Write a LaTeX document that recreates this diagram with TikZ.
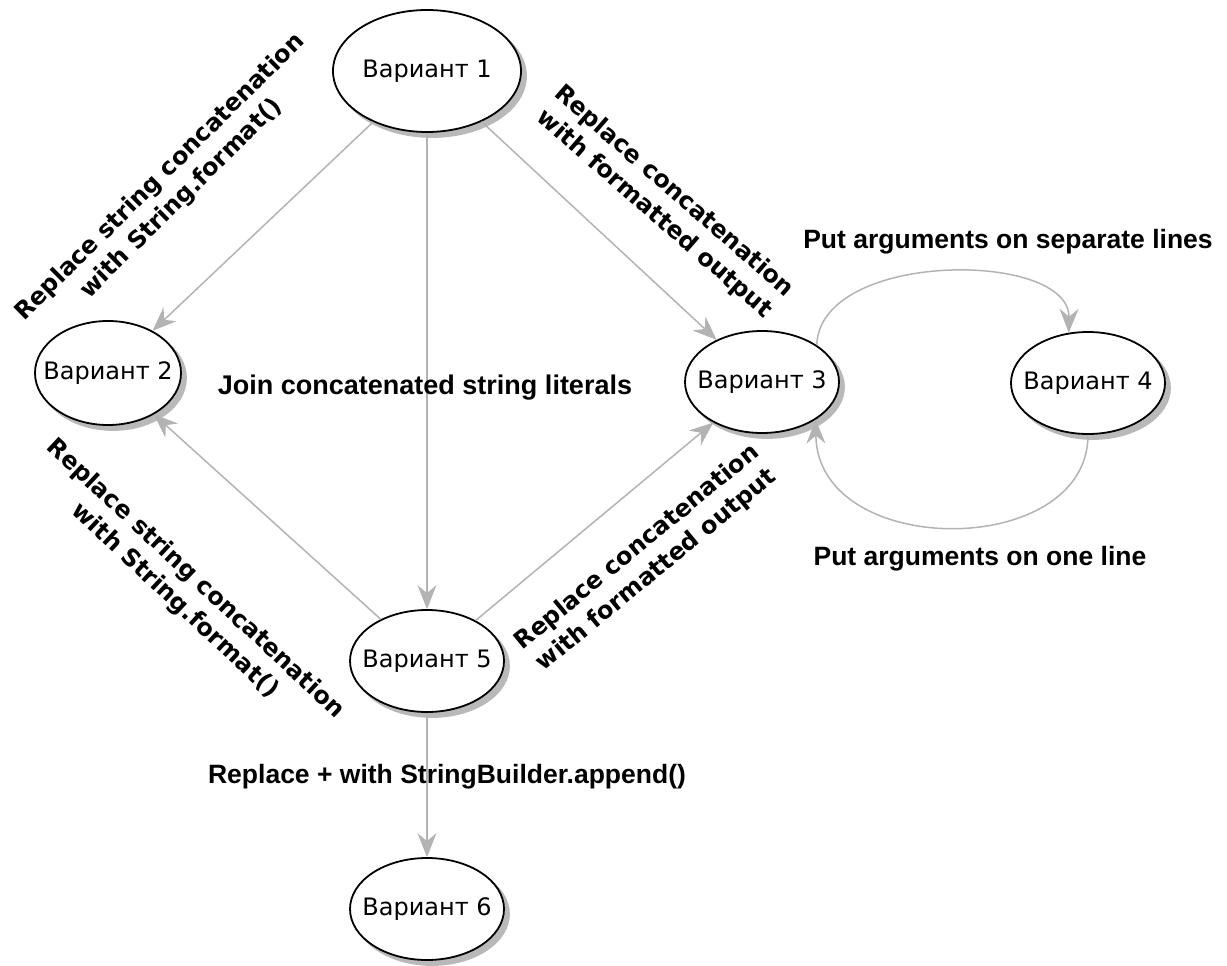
\documentclass[tikz,border=0pt]{standalone}
\usepackage{fontspec}
\setmainfont{DejaVu Sans}
\newfontfamily\labfont{Liberation Sans}
\usetikzlibrary{shapes.geometric,arrows.meta}
\definecolor{edgegray}{RGB}{179,179,179}
\definecolor{shadowgray}{RGB}{185,185,185}
\newcommand{\vtext}[1]{\makebox[0pt]{#1}}
\begin{document}
\begin{tikzpicture}[x=1pt,y=-1pt,
  state/.style={ellipse, draw=black, line width=1.8pt, fill=white, inner sep=0pt,
    minimum width=154pt, minimum height=102pt, font=\fontsize{24}{28}\selectfont},
  vshadow/.style={ellipse, draw=shadowgray, fill=shadowgray, line width=1.8pt, inner sep=0pt,
    minimum width=154pt, minimum height=102pt},
  big/.style={minimum width=188pt, minimum height=122pt},
  small/.style={minimum width=146pt, minimum height=104pt},
  link/.style={draw=edgegray, line width=1.5pt, -{Stealth[length=24pt,width=19pt,inset=8pt]}},
  rlabel/.style={font=\bfseries\fontsize{24}{30}\selectfont, align=center, inner sep=0pt},
  hlabel/.style={font=\labfont\bfseries\fontsize{26.5}{30}\selectfont, inner sep=0pt, anchor=base}
]
\useasboundingbox (0,0) rectangle (1227,966);

% shadows
\node[vshadow, big] (s1) at (432,76) {};
\node[vshadow, small] (s2) at (113,378) {};
\node[vshadow] (s3) at (767,387) {};
\node[vshadow] (s4) at (1093,388) {};
\node[vshadow] (s5) at (432,666) {};
\node[vshadow] (s6) at (432,914) {};

\node[state, big] (v1) at (427,71) {\vtext{Вариант 1}};
\node[state, small] (v2) at (108,373) {\vtext{Вариант 2}};
\node[state] (v3) at (762,382) {\vtext{Вариант 3}};
\node[state] (v4) at (1088,383) {\vtext{Вариант 4}};
\node[state] (v5) at (427,661) {\vtext{Вариант 5}};
\node[state] (v6) at (427,909) {\vtext{Вариант 6}};

\draw[link] (v1) -- (v2);
\draw[link] (v1) -- (v5);
\draw[link] (v1) -- (v3);
\draw[link] (v5) -- (v2);
\draw[link] (v5) -- (v3);
\draw[link] (v5) -- (v6);
\draw[link] (v3.34) .. controls (820,250) and (1070,250) .. (v4.111);
\draw[link] (v4.south) .. controls (1088,560) and (817,560) .. (v3.-35);

\node[rlabel, rotate=44.7] (la) at (171,188) {Replace string concatenation\\with String.format()};
\node[rlabel, rotate=-41] (lb) at (664,203) {Replace concatenation\\with formatted output};
\node[rlabel, rotate=-43] (lc) at (185,590) {Replace string concatenation\\with String.format()};
\node[rlabel, rotate=39.5] (ld) at (647,559) {Replace concatenation\\with formatted output};
\node[hlabel, font=\labfont\bfseries\fontsize{27}{30}\selectfont] (le) at (425,394) {Join concatenated string literals};
\node[hlabel] (lf) at (1008,248) {Put arguments on separate lines};
\node[hlabel] (lg) at (980,565) {Put arguments on one line};
\node[hlabel] (lh) at (447,783) {Replace + with StringBuilder.append()};
\end{tikzpicture}
\end{document}
